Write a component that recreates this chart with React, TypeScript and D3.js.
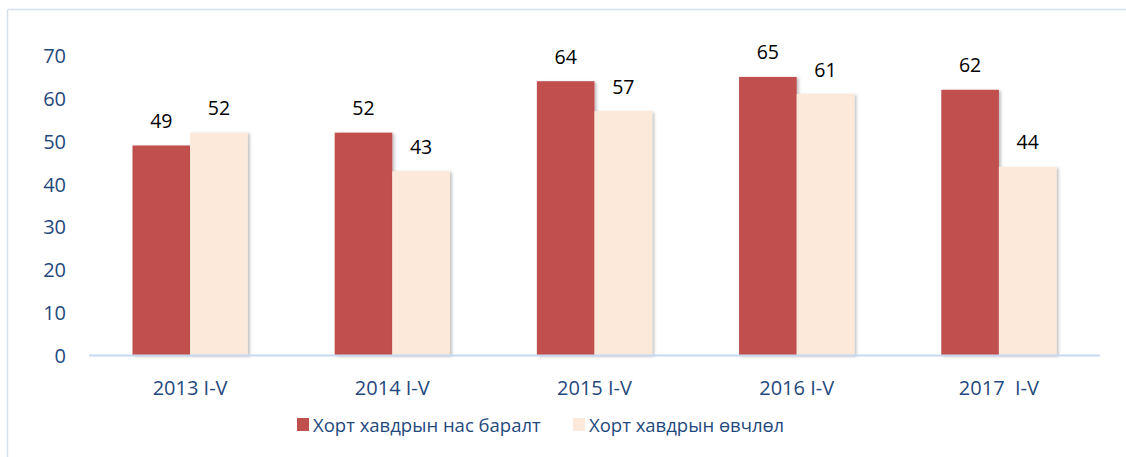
import React from "react";
import * as d3 from "d3";

const categories = ["2013 I-V", "2014 I-V", "2015 I-V", "2016 I-V", "2017  I-V"];
const mortality = [49, 52, 64, 65, 62];
const incidence = [52, 43, 57, 61, 44];
const seriesNames = ["Хорт хавдрын нас баралт", "Хорт хавдрын өвчлөл"];
const seriesColors = ["#C0504D", "#FDE9D9"];
const yTicks = [0, 10, 20, 30, 40, 50, 60, 70];

const W = 1126;
const H = 457;
const FONT = "'Open Sans', 'Liberation Sans', Arial, sans-serif";
const BLUE = "#1F497D";

export default function App() {
  const x0 = d3
    .scaleBand<string>()
    .domain(categories)
    .range([89, 1100])
    .paddingInner(0.43)
    .paddingOuter(0.215);
  const x1 = d3
    .scaleBand<number>()
    .domain([0, 1])
    .range([0, x0.bandwidth()])
    .padding(0);
  const y = d3.scaleLinear().domain([0, 70]).range([355.5, 55.5]);
  const series = [mortality, incidence];

  return (
    <svg
      width={W}
      height={H}
      style={{ position: "absolute", left: 0, top: 0, background: "#fff" }}
      fontFamily={FONT}
    >
      <defs>
        <filter id="sh" x="-20%" y="-5%" width="140%" height="110%">
          <feDropShadow dx="2" dy="1" stdDeviation="1.5" floodColor="#000" floodOpacity="0.25" />
        </filter>
      </defs>
      {/* frame */}
      <line x1={7.5} x2={7.5} y1={9.5} y2={H} stroke="#D6E1F0" strokeWidth={1.5} />
      <line x1={7.5} x2={W} y1={9.5} y2={9.5} stroke="#D6E1F0" strokeWidth={1.5} />

      {/* y ticks */}
      {yTicks.map((t) => (
        <text
          key={t}
          x={66}
          y={y(t)}
          textAnchor="end"
          dominantBaseline="central"
          fontSize={20}
          fill={BLUE}
        >
          {t}
        </text>
      ))}

      {/* bars */}
      {categories.map((c, i) =>
        series.map((s, j) => (
          <rect
            key={c + j}
            x={(x0(c) as number) + (x1(j) as number)}
            y={y(s[i])}
            width={x1.bandwidth()}
            height={y(0) - y(s[i])}
            fill={seriesColors[j]}
            filter="url(#sh)"
          />
        ))
      )}

      {/* axis line */}
      <line x1={89} x2={1100} y1={y(0)} y2={y(0)} stroke="#C6D9F1" strokeWidth={2} />

      {/* data labels */}
      {categories.map((c, i) =>
        series.map((s, j) => (
          <text
            key={"l" + c + j}
            x={(x0(c) as number) + (x1(j) as number) + x1.bandwidth() / 2}
            y={y(s[i]) - 25}
            textAnchor="middle"
            dominantBaseline="central"
            fontSize={19.5}
            fill="#000"
          >
            {s[i]}
          </text>
        ))
      )}

      {/* x labels */}
      {categories.map((c) => (
        <text
          key={"x" + c}
          x={(x0(c) as number) + x0.bandwidth() / 2}
          y={387}
          textAnchor="middle"
          dominantBaseline="central"
          fontSize={20}
          fill={BLUE}
          style={{ whiteSpace: "pre" }}
        >
          {c}
        </text>
      ))}

      {/* legend */}
      {[297, 573].map((lx, j) => (
        <g key={"lg" + j}>
          <rect x={lx} y={418} width={12} height={13} fill={seriesColors[j]} />
          <text
            x={lx + 16}
            y={424.5}
            dominantBaseline="central"
            fontSize={18.5}
            fill={BLUE}
          >
            {seriesNames[j]}
          </text>
        </g>
      ))}
    </svg>
  );
}
